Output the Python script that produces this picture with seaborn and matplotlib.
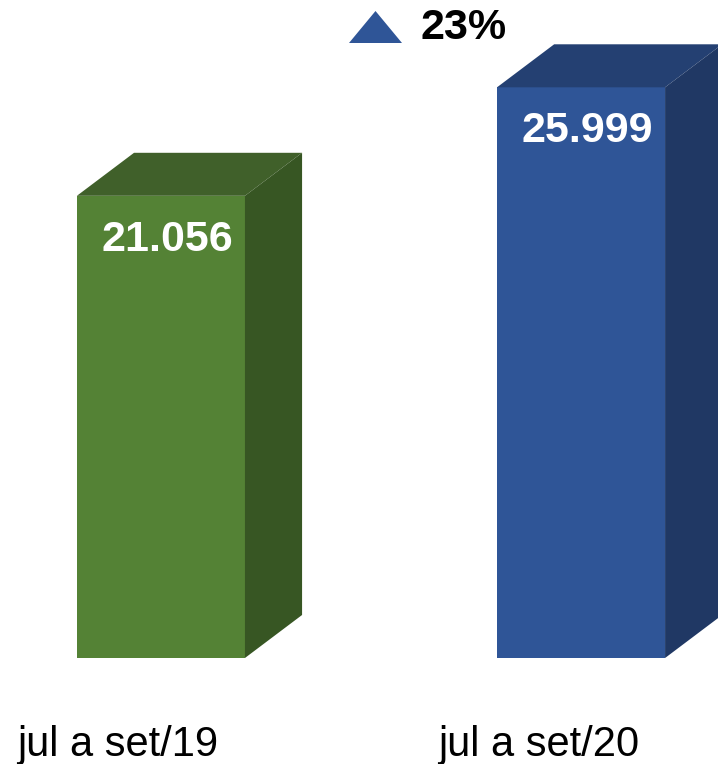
import pandas as pd
import matplotlib
matplotlib.use("Agg")
import matplotlib.pyplot as plt
import seaborn as sns
from matplotlib.patches import Polygon

# data
periods = ["jul a set/19", "jul a set/20"]
values = [21056, 25999]
value_labels = ["21.056", "25.999"]
front_colors = ["#548235", "#2f5597"]
top_colors = ["#40602a", "#244072"]
side_colors = ["#375623", "#203864"]

df = pd.DataFrame({"periodo": periods, "valor": values})

sns.set_theme(style="white")
plt.rcParams["font.family"] = ["Liberation Sans", "DejaVu Sans"]

fig = plt.figure(figsize=(7.18, 7.64), dpi=100)
ax = fig.add_axes([0, 0, 1, 1])

sns.barplot(data=df, x="periodo", y="valor", hue="periodo",
            palette=front_colors, width=0.4, legend=False, ax=ax,
            saturation=1, edgecolor="none")

ax.set_xlim(-0.383, 1.326)
ax.set_ylim(-4829, 29977)
ax.axis("off")

# 3d look: depth offsets in data units
dx = 0.136
dy = 1960
for i, v in enumerate(values):
    x0, x1 = i - 0.2, i + 0.2
    top = Polygon([(x0, v), (x1, v), (x1 + dx, v + dy), (x0 + dx, v + dy)],
                  closed=True, facecolor=top_colors[i], edgecolor="none")
    side = Polygon([(x1, 0), (x1 + dx, dy), (x1 + dx, v + dy), (x1, v)],
                   closed=True, facecolor=side_colors[i], edgecolor="none")
    ax.add_patch(top)
    ax.add_patch(side)
    ax.text(i + 0.015, v - 2000, value_labels[i], ha="center", va="center",
            color="white", fontsize=31, fontweight="bold")
    ax.text(i - 0.102, -3950, periods[i], ha="center", va="center",
            color="black", fontsize=30)

# variation marker
change = round((values[1] / values[0] - 1) * 100)
tri = Polygon([(349 / 718, 1 - 43 / 764), (402 / 718, 1 - 43 / 764),
               (375.5 / 718, 1 - 11 / 764)], closed=True,
              transform=ax.transAxes, facecolor=front_colors[1], edgecolor="none")
ax.add_patch(tri)
ax.text(420 / 718, 1 - 28 / 764, f"{change}%", transform=ax.transAxes,
        ha="left", va="center", fontsize=31, fontweight="bold", color="black")

fig.savefig("out.png", dpi=100)
